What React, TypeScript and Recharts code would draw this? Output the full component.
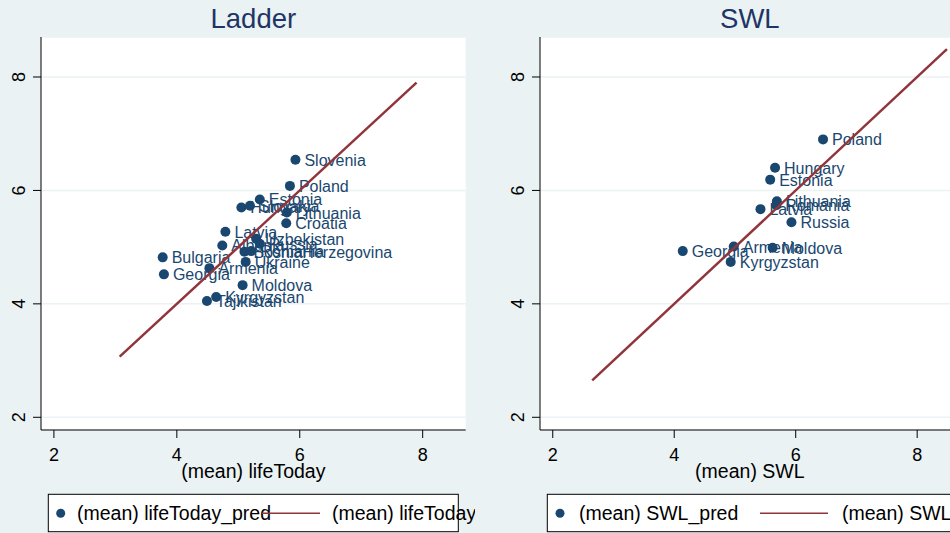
import { ScatterChart, Scatter, XAxis, YAxis, CartesianGrid } from 'recharts'

// Ladder panel: mean life-today score vs prediction
const ladderCountries = [
  'Slovenia', 'Poland', 'Estonia', 'Hungary', 'Slovakia', 'Lithuania', 'Croatia',
  'Latvia', 'Albania', 'Uzbekistan', 'Russia', 'BosniaHerzegovina', 'Romania',
  'Ukraine', 'Bulgaria', 'Georgia', 'Armenia', 'Moldova', 'Kyrgyzstan', 'Tajikistan',
]
const ladderActual = [
  5.93, 5.84, 5.35, 5.05, 5.19, 5.79, 5.78, 4.79, 4.74, 5.29, 5.35, 5.10, 5.21,
  5.12, 3.77, 3.79, 4.53, 5.07, 4.64, 4.49,
]
const ladderPred = [
  6.54, 6.08, 5.84, 5.70, 5.73, 5.61, 5.42, 5.27, 5.03, 5.15, 5.06, 4.92, 4.93,
  4.74, 4.82, 4.52, 4.63, 4.33, 4.12, 4.05,
]
const ladderLine = [3.07, 7.9]

// SWL panel
const swlCountries = [
  'Poland', 'Hungary', 'Estonia', 'Lithuania', 'Romania', 'Latvia', 'Russia',
  'Georgia', 'Armenia', 'Moldova', 'Kyrgyzstan',
]
const swlActual = [6.45, 5.66, 5.58, 5.69, 5.68, 5.42, 5.93, 4.14, 4.98, 5.62, 4.93]
const swlPred = [6.90, 6.40, 6.19, 5.81, 5.74, 5.67, 5.44, 4.93, 5.01, 4.99, 4.74]
const swlLine = [2.65, 8.49]

const axisTicks = [2, 4, 6, 8]

const FONT = '"Liberation Sans", Arial, sans-serif'
const BG = '#eaf2f3'
const NAVY = '#1a476f'
const MAROON = '#90353b'

const toPoints = (names: string[], xs: number[], ys: number[]) =>
  names.map((name, i) => ({ name, x: xs[i], y: ys[i] }))

function PointShape(props: any) {
  const { cx, cy, payload } = props
  if (cx == null || cy == null) return <g />
  return (
    <g>
      <circle cx={cx} cy={cy} r={5} fill={NAVY} />
      <text x={cx + 9} y={cy + 6} fontSize={16} fill={NAVY} fontFamily={FONT}>
        {payload.name}
      </text>
    </g>
  )
}

function YTick(props: any) {
  const { x, y, payload } = props
  const bx = x - 8
  return (
    <text
      x={bx}
      y={y}
      transform={`rotate(-90 ${bx} ${y})`}
      textAnchor="middle"
      fontSize={18}
      fill="#000"
      fontFamily={FONT}
    >
      {payload.value}
    </text>
  )
}

interface PanelProps {
  left: number
  width: number
  title: string
  xTitle: string
  predLabel: string
  lineLabel: string
  points: { name: string; x: number; y: number }[]
  line: number[]
  legend: { marker: number; text1: number; lineFrom: number; lineTo: number; text2: number }
}

function Panel({ left, width, title, xTitle, predLabel, lineLabel, points, line, legend }: PanelProps) {
  const lineData = line.map((v) => ({ x: v, y: v }))
  const plotLeft = 41
  const plotRight = width - 9.3
  const mid = (plotLeft + plotRight) / 2
  const boxLeft = plotLeft + 7.3
  return (
    <div style={{ position: 'absolute', left, top: 0, width, height: 533 }}>
      <ScatterChart width={width} height={533} margin={{ top: 37, right: 9.3, bottom: 43, left: 0 }}>
        <CartesianGrid vertical={false} stroke={BG} strokeWidth={1.5} fill="#ffffff" fillOpacity={1} />
        <XAxis
          type="number"
          dataKey="x"
          domain={[1.79, 8.7]}
          ticks={axisTicks}
          allowDataOverflow
          height={60}
          tickSize={8}
          tickMargin={10}
          stroke="#000"
          tick={{ fontSize: 18, fill: '#000', fontFamily: FONT }}
        />
        <YAxis
          type="number"
          dataKey="y"
          domain={[1.776, 8.705]}
          ticks={axisTicks}
          allowDataOverflow
          width={41}
          tickSize={8}
          tickMargin={0}
          stroke="#000"
          tick={<YTick />}
        />
        <Scatter data={points} shape={<PointShape />} isAnimationActive={false} />
        <Scatter
          data={lineData}
          line={{ stroke: MAROON, strokeWidth: 2.5 }}
          shape={() => <g />}
          isAnimationActive={false}
        />
      </ScatterChart>
      <svg
        width={width}
        height={533}
        style={{ position: 'absolute', left: 0, top: 0, pointerEvents: 'none' }}
        fontFamily={FONT}
      >
        <text x={mid} y={28} textAnchor="middle" fontSize={27.5} fill="#1f3566">
          {title}
        </text>
        <text x={mid} y={478} textAnchor="middle" fontSize={19.5} fill="#000">
          {xTitle}
        </text>
        <rect x={boxLeft} y={494.3} width={410} height={37.4} fill="#fff" stroke="#000" strokeWidth={1} />
        <circle cx={legend.marker} cy={513.3} r={4.5} fill={NAVY} />
        <text x={legend.text1} y={520} fontSize={19.5} fill="#000">
          {predLabel}
        </text>
        <line x1={legend.lineFrom} x2={legend.lineTo} y1={513.3} y2={513.3} stroke={MAROON} strokeWidth={1.5} />
        <text x={legend.text2} y={520} fontSize={19.5} fill="#000">
          {lineLabel}
        </text>
      </svg>
    </div>
  )
}

export default function App() {
  return (
    <div
      style={{
        position: 'fixed',
        left: 0,
        top: 0,
        width: 950,
        height: 533,
        overflow: 'hidden',
        background: BG,
        fontFamily: FONT,
      }}
    >
      <Panel
        left={0}
        width={475}
        title="Ladder"
        xTitle="(mean) lifeToday"
        predLabel="(mean) lifeToday_pred"
        lineLabel="(mean) lifeToday"
        points={toPoints(ladderCountries, ladderActual, ladderPred)}
        line={ladderLine}
        legend={{ marker: 60.7, text1: 77, lineFrom: 262, lineTo: 320, text2: 332 }}
      />
      <Panel
        left={499}
        width={470}
        title="SWL"
        xTitle="(mean) SWL"
        predLabel="(mean) SWL_pred"
        lineLabel="(mean) SWL"
        points={toPoints(swlCountries, swlActual, swlPred)}
        line={swlLine}
        legend={{ marker: 61, text1: 80, lineFrom: 261, lineTo: 329, text2: 343 }}
      />
    </div>
  )
}
